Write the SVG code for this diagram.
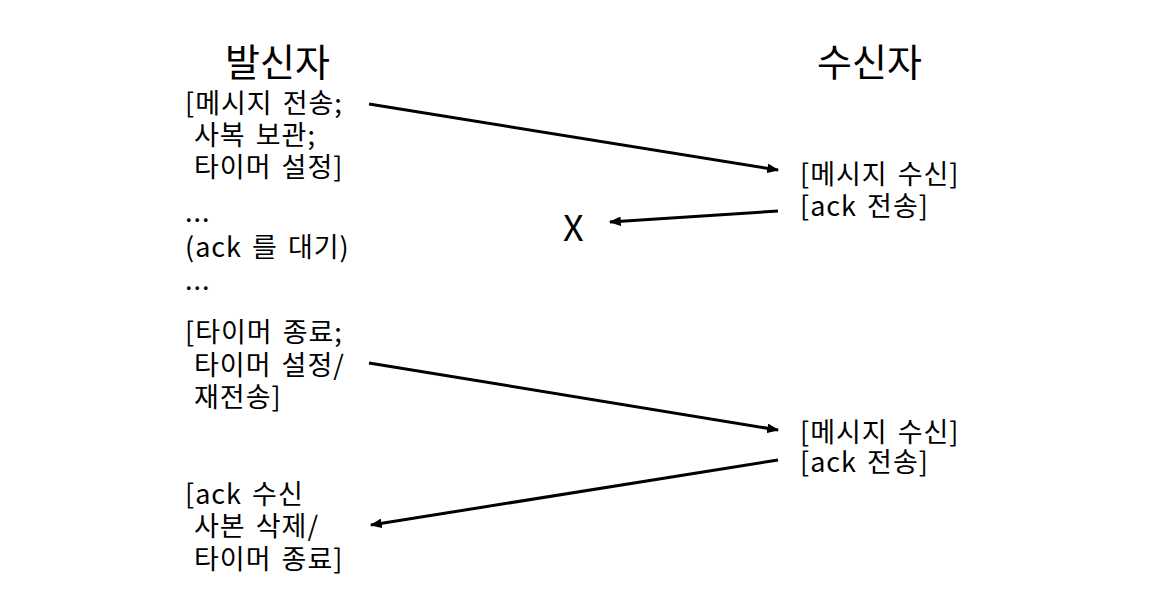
<svg xmlns="http://www.w3.org/2000/svg" width="1164" height="596" viewBox="0 0 1164 596">
<style>
text { font-family: "Noto Sans CJK KR", "Noto Sans", sans-serif; fill: #000; }
.t { font-size: 27px; letter-spacing: 1px; word-spacing: 3px; }
.h { font-size: 38px; }
.x { font-size: 36px; }
.c { stroke: #000; stroke-width: 3; fill: none; marker-end: url(#ah); }
</style>
<defs>
<marker id="ah" viewBox="0 0 10 8" refX="9" refY="4" markerWidth="4" markerHeight="3.2" orient="auto" markerUnits="strokeWidth">
<path d="M0,0 L10,4 L0,8 Z" fill="#000"/>
</marker>
</defs>
<rect width="1164" height="596" fill="#fff"/>
<g id="sender-title"><text class="h" x="225" y="76">발신자</text></g>
<g id="receiver-title"><text class="h" x="817" y="76">수신자</text></g>
<g id="sender-send">
<text class="t"><tspan x="185" y="113">[메시지 전송;</tspan><tspan x="194" y="145">사복 보관;</tspan><tspan x="194" y="177">타이머 설정]</tspan></text>
</g>
<g id="sender-wait">
<text class="t"><tspan x="185" y="222">...</tspan><tspan x="185" y="257">(ack 를 대기)</tspan><tspan x="185" y="290">...</tspan></text>
</g>
<g id="sender-timeout">
<text class="t"><tspan x="185" y="342">[타이머 종료;</tspan><tspan x="194" y="375">타이머 설정/</tspan><tspan x="194" y="407">재전송]</tspan></text>
</g>
<g id="sender-ack">
<text class="t"><tspan x="185" y="504">[ack 수신</tspan><tspan x="194" y="536">사본 삭제/</tspan><tspan x="194" y="569">타이머 종료]</tspan></text>
</g>
<g id="receiver-1">
<text class="t"><tspan x="800" y="184">[메시지 수신]</tspan><tspan x="800" y="216">[ack 전송]</tspan></text>
</g>
<g id="receiver-2">
<text class="t"><tspan x="800" y="442">[메시지 수신]</tspan><tspan x="800" y="472">[ack 전송]</tspan></text>
</g>
<g id="lost"><text class="x" x="563" y="241">X</text></g>
<g id="connectors">
<line class="c" x1="369" y1="104" x2="778" y2="170"/>
<line class="c" x1="778" y1="211" x2="610" y2="222"/>
<line class="c" x1="369" y1="363" x2="778" y2="430"/>
<line class="c" x1="778" y1="460" x2="371" y2="525"/>
</g>
</svg>
